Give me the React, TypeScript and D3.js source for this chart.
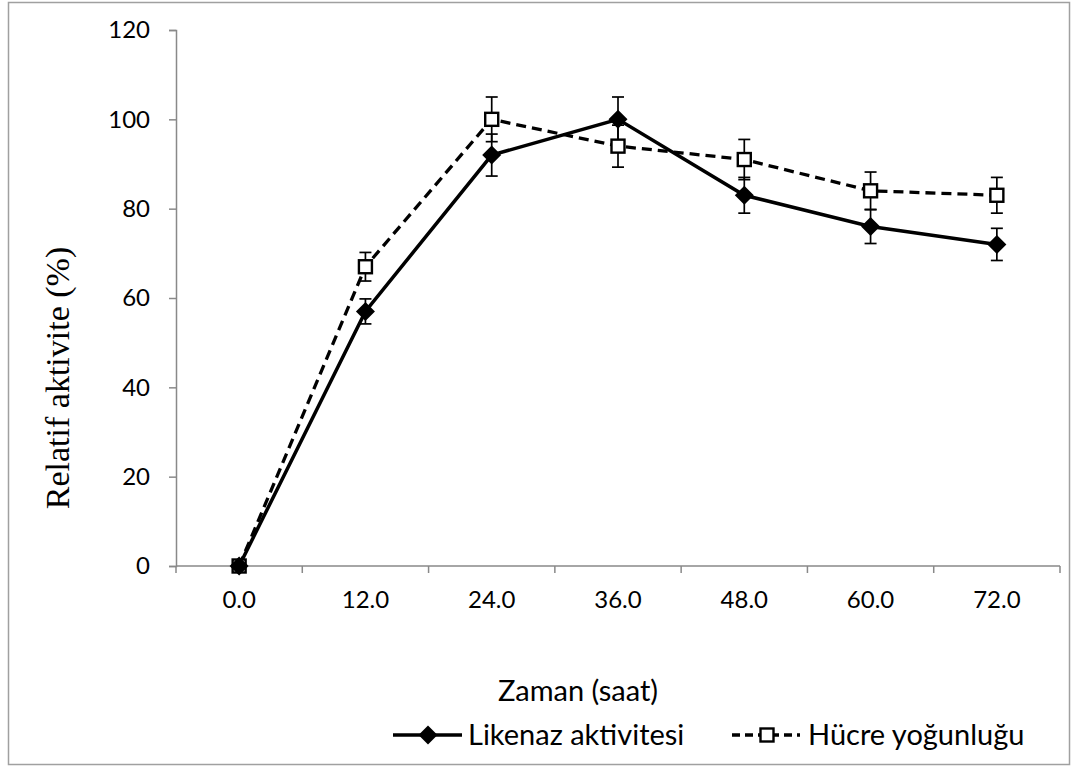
import React, { useRef, useEffect } from 'react';
import * as d3 from 'd3';

const categories = ['0.0', '12.0', '24.0', '36.0', '48.0', '60.0', '72.0'];
const likenaz = [0, 57, 92, 100, 83, 76, 72];
const likenazErr = [0, 2.8, 4.7, 5, 4, 3.8, 3.6];
const hucre = [0, 67, 100, 94, 91, 84, 83];
const hucreErr = [0, 3.2, 5, 4.7, 4.5, 4.2, 4];
const yTicks = [0, 20, 40, 60, 80, 100, 120];

const FONT = 'Lato, "Open Sans", sans-serif';
const AXIS = '#898989';

const App = () => {
  const ref = useRef<SVGSVGElement>(null);

  useEffect(() => {
    const root = d3.select(ref.current);
    root.selectAll('*').remove();

    const W = 1074;
    const H = 767;
    const left = 176;
    const right = 1060;
    const top = 30;
    const bottom = 566;

    root.attr('width', W).attr('height', H);

    // outer frame
    root
      .append('rect')
      .attr('x', 8.5)
      .attr('y', 2.5)
      .attr('width', 1061)
      .attr('height', 762)
      .attr('fill', '#fff')
      .attr('stroke', '#a0a0a0')
      .attr('stroke-width', 1.5);

    const x = d3.scaleBand().domain(categories).range([left, right]).padding(0);
    const y = d3.scaleLinear().domain([0, 120]).range([bottom, top]);
    const cx = (c) => x(c) + x.bandwidth() / 2;

    // y axis
    const yAxis = root
      .append('g')
      .attr('transform', `translate(${left},0)`)
      .call(d3.axisLeft(y).tickValues(yTicks).tickSize(7).tickPadding(19));
    yAxis.select('.domain').attr('stroke', AXIS).attr('stroke-width', 1.5);
    yAxis.selectAll('.tick line').attr('stroke', AXIS).attr('stroke-width', 1.5);
    yAxis
      .selectAll('.tick text')
      .attr('font-family', FONT)
      .attr('font-size', 24)
      .attr('fill', '#000');

    // x axis (labels at band centres, ticks at band edges)
    const xAxis = root
      .append('g')
      .attr('transform', `translate(0,${bottom})`)
      .call(d3.axisBottom(x).tickSize(0).tickPadding(25));
    xAxis.select('.domain').remove();
    xAxis
      .selectAll('.tick text')
      .attr('font-family', FONT)
      .attr('font-size', 24)
      .attr('fill', '#000');
    xAxis
      .append('line')
      .attr('x1', left)
      .attr('x2', right)
      .attr('stroke', AXIS)
      .attr('stroke-width', 1.5);
    xAxis
      .selectAll('line.edge')
      .data([...categories.map((c) => x(c)), right])
      .enter()
      .append('line')
      .attr('class', 'edge')
      .attr('x1', (d) => d)
      .attr('x2', (d) => d)
      .attr('y1', 0)
      .attr('y2', 7)
      .attr('stroke', AXIS)
      .attr('stroke-width', 1.5);

    // axis titles
    root
      .append('text')
      .attr('transform', 'translate(69,378) rotate(-90)')
      .attr('text-anchor', 'middle')
      .attr('font-family', '"Liberation Serif", "DejaVu Serif", serif')
      .attr('font-size', 34)
      .text('Relatif aktivite (%)');

    root
      .append('text')
      .attr('x', 578)
      .attr('y', 701)
      .attr('text-anchor', 'middle')
      .attr('font-family', FONT)
      .attr('font-size', 29)
      .text('Zaman (saat)');

    const line = d3
      .line<number>()
      .x((d, i) => cx(categories[i]))
      .y((d) => y(d));

    const drawErr = (vals, errs) => {
      const g = root.append('g').attr('stroke', '#000').attr('stroke-width', 1.7);
      vals.forEach((v, i) => {
        if (!errs[i]) return;
        const xc = cx(categories[i]);
        const y1 = y(v + errs[i]);
        const y2 = y(v - errs[i]);
        g.append('line').attr('x1', xc).attr('x2', xc).attr('y1', y1).attr('y2', y2);
        g.append('line').attr('x1', xc - 6).attr('x2', xc + 6).attr('y1', y1).attr('y2', y1);
        g.append('line').attr('x1', xc - 6).attr('x2', xc + 6).attr('y1', y2).attr('y2', y2);
      });
    };

    // Hücre yoğunluğu (dashed, open squares)
    drawErr(hucre, hucreErr);
    root
      .append('path')
      .datum(hucre)
      .attr('d', line)
      .attr('fill', 'none')
      .attr('stroke', '#000')
      .attr('stroke-width', 3.3)
      .attr('stroke-dasharray', '10,6');

    // Likenaz aktivitesi (solid, diamonds)
    drawErr(likenaz, likenazErr);
    root
      .append('path')
      .datum(likenaz)
      .attr('d', line)
      .attr('fill', 'none')
      .attr('stroke', '#000')
      .attr('stroke-width', 3.5);

    const square = (g, xc, yc) =>
      g
        .append('rect')
        .attr('x', xc - 6.5)
        .attr('y', yc - 6.5)
        .attr('width', 13)
        .attr('height', 13)
        .attr('fill', '#fff')
        .attr('stroke', '#000')
        .attr('stroke-width', 2.4);

    const diamond = (g, xc, yc) =>
      g
        .append('path')
        .attr('d', `M${xc},${yc - 9.5}L${xc + 9.5},${yc}L${xc},${yc + 9.5}L${xc - 9.5},${yc}Z`)
        .attr('fill', '#000');

    const markers = root.append('g');
    hucre.forEach((v, i) => square(markers, cx(categories[i]), y(v)));
    likenaz.forEach((v, i) => diamond(markers, cx(categories[i]), y(v)));

    // legend
    const ly = 735;
    const lg = root.append('g');
    lg.append('line')
      .attr('x1', 393)
      .attr('x2', 462)
      .attr('y1', ly)
      .attr('y2', ly)
      .attr('stroke', '#000')
      .attr('stroke-width', 3.5);
    diamond(lg, 428, ly);
    lg.append('text')
      .attr('x', 468)
      .attr('y', ly + 10)
      .attr('font-family', FONT)
      .attr('font-size', 29)
      .text('Likenaz aktivitesi');

    lg.append('line')
      .attr('x1', 732)
      .attr('x2', 800)
      .attr('y1', ly)
      .attr('y2', ly)
      .attr('stroke', '#000')
      .attr('stroke-width', 3.3)
      .attr('stroke-dasharray', '8,5');
    square(lg, 767, ly);
    lg.append('text')
      .attr('x', 808)
      .attr('y', ly + 10)
      .attr('font-family', FONT)
      .attr('font-size', 29)
      .text('Hücre yoğunluğu');
  }, []);

  return <svg ref={ref} style={{ position: 'absolute', left: 0, top: 0 }}></svg>;
};

export default App;
